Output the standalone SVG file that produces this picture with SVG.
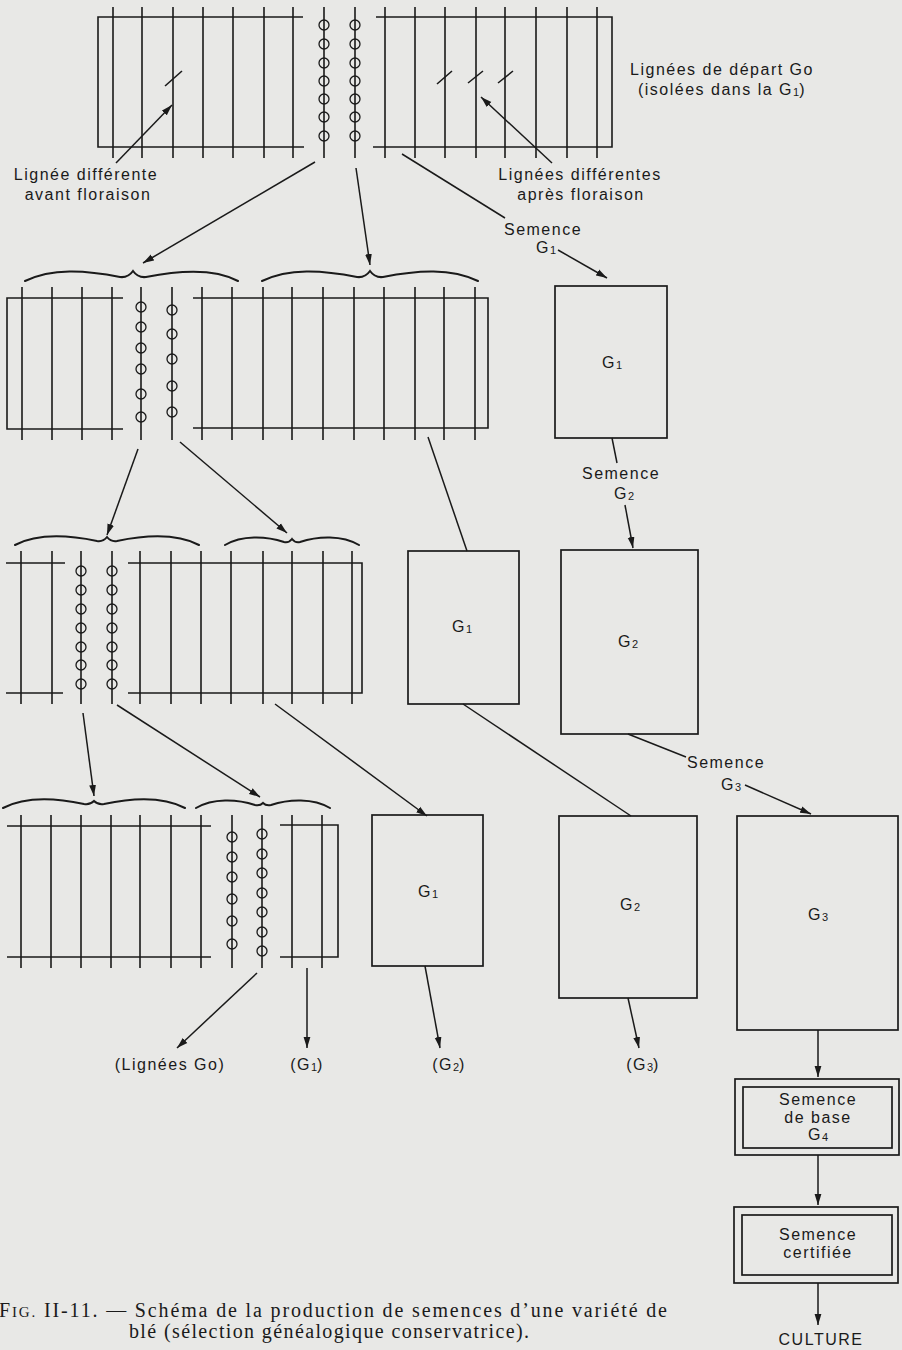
<svg xmlns="http://www.w3.org/2000/svg" width="902" height="1350" viewBox="0 0 902 1350">
<defs>
<marker id="ah" markerUnits="userSpaceOnUse" markerWidth="12" markerHeight="8" refX="11" refY="4" orient="auto">
<path d="M0,0.6 L11,4 L0,7.4 z" fill="#1a1a1a"/>
</marker>
</defs>
<style>
.l{stroke:#1a1a1a;stroke-width:1.6;fill:none}
.c{stroke:#1a1a1a;stroke-width:1.3;fill:none}
.b{stroke:#1a1a1a;stroke-width:2;fill:none;stroke-linecap:round}
.box{stroke:#1a1a1a;stroke-width:1.7;fill:none}
.cn{stroke:#1a1a1a;stroke-width:1.5;fill:none}
.ar{stroke:#1a1a1a;stroke-width:1.5;fill:none;marker-end:url(#ah)}
text{font-family:"Liberation Sans",Arial,sans-serif;font-size:16px;fill:#1a1a1a;letter-spacing:1.5px}
.m{text-anchor:middle}
.s{font-size:11px;letter-spacing:0}
.cap{font-family:"Liberation Serif","Times New Roman",serif;font-size:20px;letter-spacing:0}
</style>
<rect x="0" y="0" width="902" height="1350" fill="#e8e8e6"/>

<g id="plot-r1-left">
<path class="l" d="M303,17 H98 V147 H304"/>
<path class="l" d="M113,7V158M142,7V158M173,7V158M203,7V158M233,7V158M264,7V158M293,7V158"/>
<path class="l" d="M165,86 L182,71"/>
</g>
<g id="lines-r1-selected">
<path class="l" d="M324,7V158M355,7V158"/>
<g class="c">
<circle cx="324" cy="25" r="5"/><circle cx="324" cy="44" r="5"/><circle cx="324" cy="63" r="5"/><circle cx="324" cy="81" r="5"/><circle cx="324" cy="99" r="5"/><circle cx="324" cy="117" r="5"/><circle cx="324" cy="136" r="5"/>
<circle cx="355" cy="25" r="5"/><circle cx="355" cy="44" r="5"/><circle cx="355" cy="63" r="5"/><circle cx="355" cy="81" r="5"/><circle cx="355" cy="99" r="5"/><circle cx="355" cy="117" r="5"/><circle cx="355" cy="136" r="5"/>
</g>
</g>
<g id="plot-r1-right">
<path class="l" d="M376,17 H612 V147 H373"/>
<path class="l" d="M385,7V158M415,7V158M445,7V158M476,7V158M505,7V158M536,7V158M567,7V158M597,7V158"/>
<path class="l" d="M437,84 L452,71 M468,83 L483,71 M498,83 L513,71"/>
</g>
<g id="label-avant">
<text class="m" x="86" y="180">Lignée différente</text>
<text class="m" x="88" y="200">avant floraison</text>
</g>
<g id="label-apres">
<text class="m" x="580" y="180">Lignées différentes</text>
<text class="m" x="581" y="200">après floraison</text>
</g>
<g id="label-depart">
<text class="m" x="722" y="75">Lignées de départ Go</text>
<text class="m" x="722" y="95">(isolées dans la G<tspan class="s" dy="1">1</tspan><tspan dy="-1">)</tspan></text>
</g>

<g id="row2-braces">
<path class="b" d="M25,281 C52,268 85,270 120,277 Q128,278 133,271 Q138,278 146,277 C181,270 214,268 238,281"/>
<path class="b" d="M262,281 C289,268 322,270 357,277 Q365,278 370,271 Q375,278 383,277 C418,270 451,268 478,281"/>
</g>
<g id="plot-r2-left">
<path class="l" d="M123,298 H7 V429 H123"/>
<path class="l" d="M22,287V440M52,287V440M82,287V440M112,287V440"/>
</g>
<g id="lines-r2-selected">
<path class="l" d="M141,287V440M172,287V440"/>
<g class="c">
<circle cx="141" cy="307" r="5"/><circle cx="141" cy="327" r="5"/><circle cx="141" cy="348" r="5"/><circle cx="141" cy="369" r="5"/><circle cx="141" cy="394" r="5"/><circle cx="141" cy="417" r="5"/>
<circle cx="172" cy="310" r="5"/><circle cx="172" cy="334" r="5"/><circle cx="172" cy="359" r="5"/><circle cx="172" cy="386" r="5"/><circle cx="172" cy="412" r="5"/>
</g>
</g>
<g id="plot-r2-right">
<path class="l" d="M193,298 H488 V428 H193"/>
<path class="l" d="M202,287V440M232,287V440M263,287V440M292,287V440M323,287V440M354,287V440M384,287V440M415,287V440M444,287V440M475,287V440"/>
</g>
<g id="box-g1-a">
<rect class="box" x="555" y="286" width="112" height="152"/>
<text class="m" x="612" y="368">G<tspan class="s" dy="1">1</tspan></text>
</g>
<g id="label-semence-g1">
<text class="m" x="543" y="235">Semence</text>
<text class="m" x="546" y="253">G<tspan class="s" dy="1">1</tspan></text>
</g>
<g id="label-semence-g2">
<text class="m" x="621" y="479">Semence</text>
<text class="m" x="624" y="499">G<tspan class="s" dy="1">2</tspan></text>
</g>

<g id="row3-braces">
<path class="b" d="M15,545 C38,533 68,535 97,541 Q103,542 107,537 Q111,542 117,541 C146,535 176,533 199,545"/>
<path class="b" d="M225,545 C242,535 266,536 284,542 Q289,543 292,539 Q295,543 300,542 C318,536 342,535 359,545"/>
</g>
<g id="plot-r3-left">
<path class="l" d="M6,563 H65 M6,693 H63"/>
<path class="l" d="M21,551V704M52,551V704"/>
</g>
<g id="lines-r3-selected">
<path class="l" d="M81,551V704M112,551V704"/>
<g class="c">
<circle cx="81" cy="571" r="5"/><circle cx="81" cy="590" r="5"/><circle cx="81" cy="609" r="5"/><circle cx="81" cy="628" r="5"/><circle cx="81" cy="647" r="5"/><circle cx="81" cy="665" r="5"/><circle cx="81" cy="684" r="5"/>
<circle cx="112" cy="571" r="5"/><circle cx="112" cy="590" r="5"/><circle cx="112" cy="609" r="5"/><circle cx="112" cy="628" r="5"/><circle cx="112" cy="647" r="5"/><circle cx="112" cy="665" r="5"/><circle cx="112" cy="684" r="5"/>
</g>
</g>
<g id="plot-r3-right">
<path class="l" d="M128,563 H362 V693 H128"/>
<path class="l" d="M140,551V704M171,551V704M201,551V704M231,551V704M263,551V704M292,551V704M323,551V704M352,551V704"/>
</g>
<g id="box-g1-b">
<rect class="box" x="408" y="551" width="111" height="153"/>
<text class="m" x="462" y="632">G<tspan class="s" dy="1">1</tspan></text>
</g>
<g id="box-g2-a">
<rect class="box" x="561" y="550" width="137" height="184"/>
<text class="m" x="628" y="647">G<tspan class="s" dy="1">2</tspan></text>
</g>
<g id="label-semence-g3">
<text class="m" x="726" y="768">Semence</text>
<text class="m" x="731" y="790">G<tspan class="s" dy="1">3</tspan></text>
</g>

<g id="row4-braces">
<path class="b" d="M3,808 C26,796 56,798 84,804 Q90,805 94,801 Q98,805 104,804 C132,798 162,796 185,808"/>
<path class="b" d="M196,808 C213,798 237,799 255,805 Q260,806 263,803 Q266,806 271,805 C289,799 313,798 330,808"/>
</g>
<g id="plot-r4-left">
<path class="l" d="M7,826 H211 M7,957 H211"/>
<path class="l" d="M21,815V968M51,815V968M81,815V968M111,815V968M140,815V968M171,815V968M201,815V968"/>
</g>
<g id="lines-r4-selected">
<path class="l" d="M232,815V968M262,815V968"/>
<g class="c">
<circle cx="232" cy="837" r="5"/><circle cx="232" cy="857" r="5"/><circle cx="232" cy="877" r="5"/><circle cx="232" cy="899" r="5"/><circle cx="232" cy="921" r="5"/><circle cx="232" cy="944" r="5"/>
<circle cx="262" cy="834" r="5"/><circle cx="262" cy="854" r="5"/><circle cx="262" cy="873" r="5"/><circle cx="262" cy="893" r="5"/><circle cx="262" cy="912" r="5"/><circle cx="262" cy="932" r="5"/><circle cx="262" cy="951" r="5"/>
</g>
</g>
<g id="plot-r4-right">
<path class="l" d="M280,825 H338 V957 H280"/>
<path class="l" d="M292,815V968M322,815V968"/>
</g>
<g id="box-g1-c">
<rect class="box" x="372" y="815" width="111" height="151"/>
<text class="m" x="428" y="897">G<tspan class="s" dy="1">1</tspan></text>
</g>
<g id="box-g2-b">
<rect class="box" x="559" y="816" width="138" height="182"/>
<text class="m" x="630" y="910">G<tspan class="s" dy="1">2</tspan></text>
</g>
<g id="box-g3">
<rect class="box" x="737" y="816" width="161" height="214"/>
<text class="m" x="818" y="920">G<tspan class="s" dy="1">3</tspan></text>
</g>
<g id="box-base">
<rect class="box" x="735" y="1079" width="164" height="76"/>
<rect class="box" x="743" y="1087" width="149" height="61"/>
<text class="m" x="818" y="1105">Semence</text>
<text class="m" x="818" y="1123">de base</text>
<text class="m" x="818" y="1140">G<tspan class="s" dy="1">4</tspan></text>
</g>
<g id="box-certifiee">
<rect class="box" x="734" y="1207" width="164" height="76"/>
<rect class="box" x="742" y="1215" width="150" height="60"/>
<text class="m" x="818" y="1240">Semence</text>
<text class="m" x="818" y="1258">certifiée</text>
</g>
<g id="label-culture"><text class="m" x="821" y="1345">CULTURE</text></g>
<g id="bottom-labels">
<text class="m" x="170" y="1070">(Lignées Go)</text>
<text class="m" x="307" y="1070">(G<tspan class="s" dy="1">1</tspan><tspan dy="-1">)</tspan></text>
<text class="m" x="449" y="1070">(G<tspan class="s" dy="1">2</tspan><tspan dy="-1">)</tspan></text>
<text class="m" x="643" y="1070">(G<tspan class="s" dy="1">3</tspan><tspan dy="-1">)</tspan></text>
</g>

<g id="connectors">
<path class="ar" d="M116,163 L172,105"/>
<path class="ar" d="M552,163 L481,97"/>
<path class="ar" d="M315,162 L143,263"/>
<path class="ar" d="M356,168 L370,265"/>
<path class="cn" d="M402,154 L505,218"/>
<path class="ar" d="M558,250 L607,278"/>
<path class="cn" d="M612,438 L617,463"/>
<path class="ar" d="M625,505 L633,548"/>
<path class="ar" d="M138,449 L107,535"/>
<path class="ar" d="M180,442 L287,533"/>
<path class="cn" d="M428,437 L467,551"/>
<path class="ar" d="M83,713 L94,796"/>
<path class="ar" d="M117,705 L260,797"/>
<path class="ar" d="M275,704 L427,816"/>
<path class="cn" d="M463,704 L631,816"/>
<path class="cn" d="M628,734 L686,757"/>
<path class="ar" d="M745,785 L811,814"/>
<path class="ar" d="M257,973 L177,1048"/>
<path class="ar" d="M307,968 L307,1048"/>
<path class="ar" d="M425,966 L440,1048"/>
<path class="ar" d="M628,998 L639,1048"/>
<path class="ar" d="M818,1030 L818,1077"/>
<path class="ar" d="M818,1155 L818,1205"/>
<path class="ar" d="M818,1283 L818,1325"/>
</g>

<g id="caption">
<text class="cap" x="-1" y="1317" textLength="668" lengthAdjust="spacing">F<tspan font-size="15">IG.</tspan> II-11. — Schéma de la production de semences d’une variété de</text>
<text class="cap" x="129" y="1338" textLength="400" lengthAdjust="spacing">blé (sélection généalogique conservatrice).</text>
</g>
</svg>
